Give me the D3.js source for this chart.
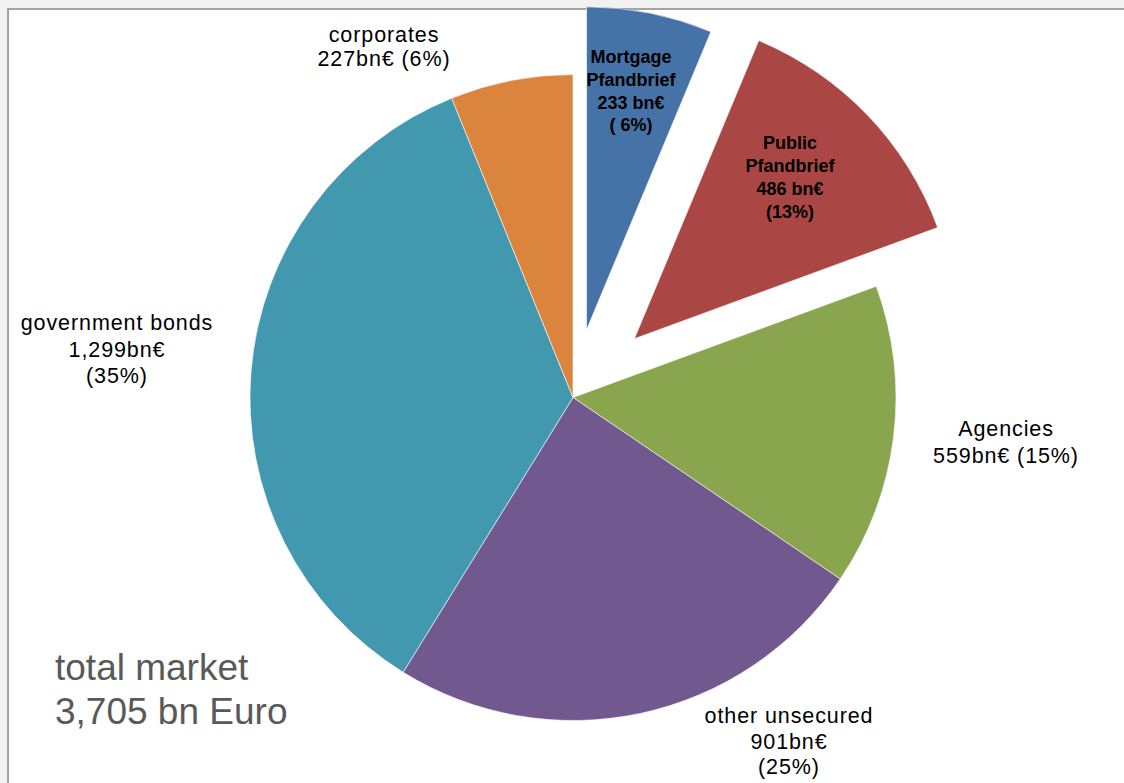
<!DOCTYPE html>
<html>
<head>
<meta charset="utf-8">
<script src="https://cdn.jsdelivr.net/npm/d3@7"></script>
<style>
  html, body { margin: 0; padding: 0; background: #f2f2f2; }
  svg { display: block; }
</style>
</head>
<body>
<svg id="chart" width="1124" height="783"></svg>
<script>
// Segment names and outstanding volumes (bn €), clockwise from 12 o'clock
const categories = ["Mortgage Pfandbrief", "Public Pfandbrief", "Agencies", "other unsecured", "government bonds", "corporates"];
const volumes = [233, 486, 559, 901, 1299, 227];
const shares = ["6%", "13%", "15%", "25%", "35%", "6%"];
const labelLines = [
  ["Mortgage", "Pfandbrief", "233 bn€", "( 6%)"],
  ["Public", "Pfandbrief", "486 bn€", "(13%)"],
  ["Agencies", "559bn€ (15%)"],
  ["other unsecured", "901bn€", "(25%)"],
  ["government bonds", "1,299bn€", "(35%)"],
  ["corporates", "227bn€ (6%)"]
];
const totalLines = ["total market", "3,705 bn Euro"];

// Styling
const colors = ["#4572A7", "#AA4643", "#89A54E", "#71588F", "#4198AF", "#DB843D"];
const explode = [69, 85, 0, 0, 0, 0];
const cx = 573, cy = 397.5, radius = 323;

const svg = d3.select("#chart");

// plot area frame
svg.append("rect").attr("x", 8).attr("y", 9).attr("width", 1116).attr("height", 774).attr("fill", "#ffffff");
svg.append("path").attr("d", "M8,783 L8,9 L1124,9").attr("fill", "none").attr("stroke", "#a3a3a3").attr("stroke-width", 2);

const pie = d3.pie().sort(null).value(d => d)(volumes);
const arc = d3.arc().innerRadius(0).outerRadius(radius);

const g = svg.append("g").attr("transform", `translate(${cx},${cy})`);
g.selectAll("path.slice")
  .data(pie)
  .join("path")
  .attr("class", "slice")
  .attr("transform", (d, i) => {
    const a = (d.startAngle + d.endAngle) / 2;
    return `translate(${explode[i] * Math.sin(a)},${-explode[i] * Math.cos(a)})`;
  })
  .attr("d", arc)
  .attr("fill", (d, i) => colors[i])
  .attr("stroke", "#ffffff")
  .attr("stroke-width", 0.6);

// data labels: [centre x, first baseline, line step, bold]
const labelPos = [
  [631, 63, 22.8, true],
  [790, 148.5, 23.3, true],
  [1006, 436, 27, false],
  [789, 723, 25.5, false],
  [117, 330, 26.6, false],
  [384, 42, 23.5, false]
];
labelLines.forEach((lines, i) => {
  const [x, y0, step, bold] = labelPos[i];
  const t = svg.append("text")
    .attr("text-anchor", "middle")
    .attr("font-family", "Liberation Sans, Arial, sans-serif")
    .attr("font-size", bold ? 18 : 21.5)
    .attr("font-weight", bold ? "bold" : "normal")
    .attr("letter-spacing", bold ? 0 : 0.9)
    .attr("fill", "#000000");
  lines.forEach((s, k) => {
    t.append("tspan").attr("x", x).attr("y", y0 + k * step).text(s);
  });
});

// total market annotation
const tt = svg.append("text")
  .attr("font-family", "Liberation Sans, Arial, sans-serif")
  .attr("font-size", 37)
  .attr("fill", "#595959");
totalLines.forEach((s, k) => {
  tt.append("tspan").attr("x", 55).attr("y", 680 + k * 44).text(s);
});
</script>
</body>
</html>
